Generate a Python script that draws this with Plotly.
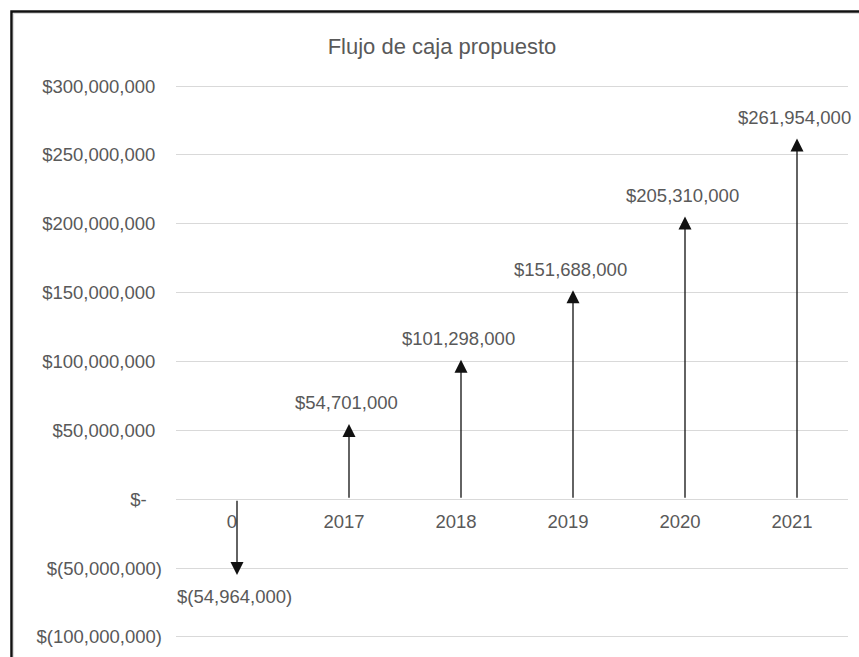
import plotly.graph_objects as go

# Proposed cash flow by period
periods = ["0", "2017", "2018", "2019", "2020", "2021"]
cash_flow = [-54964000, 54701000, 101298000, 151688000, 205310000, 261954000]

# Value axis ticks (accounting style labels)
y_tickvals = [-100000000, -50000000, 0, 50000000, 100000000, 150000000,
              200000000, 250000000, 300000000]
y_ticktext = ["$(100,000,000)", "$(50,000,000)", "$-\u00a0\u00a0\u00a0",
              "$50,000,000\u00a0\u200a", "$100,000,000\u00a0\u200a",
              "$150,000,000\u00a0\u200a", "$200,000,000\u00a0\u200a",
              "$250,000,000\u00a0\u200a", "$300,000,000\u00a0\u200a"]

TITLE = "Flujo de caja propuesto"


def money(v):
    s = f"{abs(v):,.0f}"
    return f"$({s})" if v < 0 else f"${s}"


W, H = 859, 657
ML, MR, MT, MB = 176, 11, 84, 18
FONT = "Arial, 'Liberation Sans', Helvetica, sans-serif"
GREY = "#595959"
GRID = "#d9d9d9"

# small padding so the first and last gridlines are drawn inside the plot
pad = 1500000
ymin, ymax = y_tickvals[0] - pad, y_tickvals[-1] + pad

fig = go.Figure()
fig.add_trace(go.Scatter(
    x=periods, y=cash_flow, mode="markers",
    marker=dict(size=1, opacity=0), hoverinfo="skip", showlegend=False,
))

annotations = []
for i, v in enumerate(cash_flow):
    # arrow from the zero line to the cash-flow value (x = category index)
    annotations.append(dict(
        x=i, y=v, xref="x", yref="y",
        ax=i, ay=0, axref="x", ayref="y",
        text="", showarrow=True,
        arrowhead=2, arrowsize=2, arrowwidth=1.3, arrowcolor="#111111",
        standoff=0, startstandoff=0, xshift=5,
    ))
    # value label beyond the arrow tip
    annotations.append(dict(
        x=i, y=v, xref="x", yref="y", text=money(v), showarrow=False,
        xanchor="center", yanchor="middle",
        yshift=21 if v >= 0 else -22, xshift=2,
        font=dict(family=FONT, size=18.5, color=GREY),
    ))

pw = W - ML - MR
ph = H - MT - MB


def px_x(x):
    return (x - ML) / pw


def px_y(y):
    return (H - MB - y) / ph


shapes = [
    # outer chart frame
    dict(type="rect", xref="paper", yref="paper", layer="above",
         x0=px_x(11.5), x1=px_x(W + 20), y0=px_y(H + 20), y1=px_y(11.5),
         line=dict(color="#111111", width=2.5), fillcolor="rgba(0,0,0,0)"),
    dict(type="rect", xref="paper", yref="paper", layer="above",
         x0=px_x(13.5), x1=px_x(W + 20), y0=px_y(H + 20), y1=px_y(13.5),
         line=dict(color="#dcdcdc", width=1.2), fillcolor="rgba(0,0,0,0)"),
]

fig.update_layout(
    width=W, height=H,
    margin=dict(l=ML, r=MR, t=MT, b=MB, pad=0),
    paper_bgcolor="white", plot_bgcolor="white",
    showlegend=False,
    title=dict(text=TITLE, xref="container", yref="container",
               x=442 / W, y=1 - 46 / H, xanchor="center", yanchor="middle",
               font=dict(family=FONT, size=22, color=GREY)),
    xaxis=dict(
        type="category", categoryorder="array", categoryarray=periods,
        range=[-0.5, len(periods) - 0.5],
        anchor="free", position=(0 - ymin) / (ymax - ymin),
        showgrid=False, zeroline=False, showline=False,
        ticks="", ticklabelstandoff=9,
        tickfont=dict(family=FONT, size=18.5, color=GREY),
    ),
    yaxis=dict(
        range=[ymin, ymax], tickvals=y_tickvals, ticktext=y_ticktext,
        showgrid=True, gridcolor=GRID, gridwidth=1,
        zeroline=True, zerolinecolor=GRID, zerolinewidth=1,
        showline=False, ticks="", ticklabelstandoff=13,
        tickfont=dict(family=FONT, size=18.5, color=GREY),
    ),
    annotations=annotations,
    shapes=shapes,
)

fig.write_html("out.html")
